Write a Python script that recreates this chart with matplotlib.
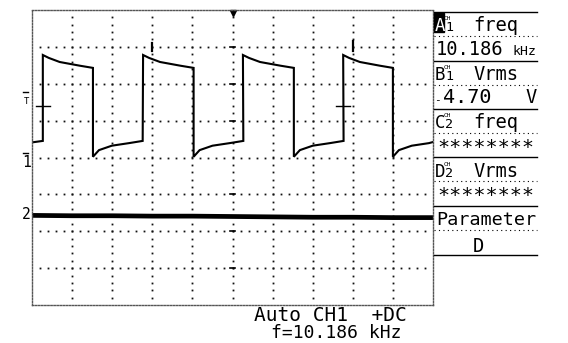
import matplotlib
matplotlib.use("Agg")
import matplotlib.pyplot as plt
import numpy as np

# ---------------- data (in screen divisions) ----------------
ch1_rise_times = [0.27, 2.77, 5.26, 7.76]
ch1_fall_times = [1.52, 4.03, 6.53, 9.00]
ch1_high_offsets = [0.0, 0.15, 0.42, 0.67, 0.92, 1.25]
ch1_high_levels = [2.78, 2.70, 2.59, 2.54, 2.49, 2.43]
ch1_low_offsets = [0.0, 0.15, 0.47, 0.90, 1.24]
ch1_low_levels = [0.02, 0.20, 0.32, 0.39, 0.45]
ch1_start_level = 0.41
cursor_level = 1.40

ch2_times = [0, 1, 2, 3, 4, 5, 6, 7, 8, 9, 10]
ch2_levels = [-1.57, -1.58, -1.58, -1.59, -1.59, -1.60, -1.61, -1.62, -1.62, -1.63, -1.63]

panel_rows = [("A", "1", "freq"), ("B", "1", "Vrms"), ("C", "2", "freq"), ("D", "2", "Vrms")]
panel_values = [("10.186", "kHz"), ("-4.70", "V"), ("********", ""), ("********", "")]
status_line1 = "Auto CH1  +DC"
status_line2 = "f=10.186 kHz"

# ---------------- figure ----------------
W, H = 568, 343
fig = plt.figure(figsize=(W / 100, H / 100), dpi=100)
fig.patch.set_facecolor("white")

x0, x1, y0, y1 = 32, 433, 10, 305
ax = fig.add_axes([x0 / W, (H - y1) / H, (x1 - x0) / W, (y1 - y0) / H])
ax.set_xlim(0, 10)
ax.set_ylim(-4, 4)
ax.set_xticks([])
ax.set_yticks([])
for s in ax.spines.values():
    s.set_linewidth(1.0)
    s.set_linestyle((0, (1, 1.2)))
    s.set_color("#555555")

# dotted graticule
for i in range(1, 10):
    yy = np.arange(-3.8, 4.0, 0.2)
    ax.plot(np.full_like(yy, i), yy, ls="none", marker="s", ms=1.3, mec="none", color="#111111")
for j in range(-3, 4):
    xx = np.arange(0.2, 10.0, 0.2)
    ax.plot(xx, np.full_like(xx, j), ls="none", marker="s", ms=1.3, mec="none", color="#111111")
# center line tick dashes
for j in range(-3, 4):
    if j != 0:
        ax.plot([4.94, 5.06], [j, j], color="black", lw=1.2)
ax.plot([3, 3], [2.9, 3.1], color="black", lw=1.6)
ax.plot([8, 8], [2.9, 3.15], color="black", lw=1.6)

# CH1 trace
tx = [0.0, ch1_rise_times[0]]
ty = [ch1_start_level, ch1_low_levels[-1]]
for k, (r, f) in enumerate(zip(ch1_rise_times, ch1_fall_times)):
    sc = (f - r) / ch1_high_offsets[-1]
    for o, v in zip(ch1_high_offsets, ch1_high_levels):
        tx.append(r + o * sc)
        ty.append(v)
    nxt = ch1_rise_times[k + 1] if k + 1 < len(ch1_rise_times) else 10.0
    for o, v in zip(ch1_low_offsets, ch1_low_levels):
        t = f + o
        if t > 10.0:
            break
        tx.append(t)
        ty.append(v)
        if t >= nxt:
            break
if tx[-1] < 10.0:
    tx.append(10.0)
    ty.append(0.42)
ax.plot(tx, ty, color="black", lw=1.5, solid_joinstyle="miter")

# cursor crosses on the rising edges
for r in (ch1_rise_times[0], ch1_rise_times[-1]):
    ax.plot([r - 0.17, r + 0.17], [cursor_level, cursor_level], color="black", lw=1.0)

# CH2 trace
ax.plot(ch2_times, ch2_levels, color="black", lw=3.4)

# trigger position marker
ax.plot([5], [3.93], marker="v", ms=5, color="black", clip_on=False)

# ---------------- overlay in pixel coordinates ----------------
ov = fig.add_axes([0, 0, 1, 1])
ov.set_xlim(0, W)
ov.set_ylim(H, 0)
ov.axis("off")

mono = "DejaVu Sans Mono"

# left channel markers
ov.plot([23, 28], [153, 153], color="black", lw=1)
ov.text(26.5, 167, "1", fontsize=10.5, family=mono, ha="center", va="baseline")
ov.text(26.5, 219, "2", fontsize=10.5, family=mono, ha="center", va="baseline")
ov.plot([23, 28], [92, 92], color="black", lw=1)
ov.text(26.5, 104, "T", fontsize=6.5, family=mono, ha="center", va="baseline")

# right panel lines
px0, px1 = 434, 537
for y in (12, 61, 109, 157, 206, 255):
    ov.plot([px0, px1], [y, y], color="black", lw=1.0)
for y in (36, 85, 133, 181, 230):
    ov.plot([px0, px1], [y, y], color="black", lw=0.8, ls=(0, (1, 3)))

row_base = [31, 80, 128, 177]
val_base = [55, 103, 150, 199]
for i, ((letter, ch, name), (val, unit)) in enumerate(zip(panel_rows, panel_values)):
    b = row_base[i]
    if i == 0:
        ov.add_patch(plt.Rectangle((434, b - 18), 9.5, 18.5, color="black"))
        ov.text(434.5, b, letter, fontsize=12.5, family=mono, ha="left", va="baseline", color="white")
    else:
        ov.text(434.5, b, letter, fontsize=12.5, family=mono, ha="left", va="baseline")
    ov.text(444, b - 11, "CH", fontsize=4.5, family=mono, ha="left", va="baseline")
    ov.text(445, b, ch, fontsize=9.5, family=mono, ha="left", va="baseline")
    ov.text(473, b, name, fontsize=13.5, family=mono, ha="left", va="baseline")
    vb = val_base[i]
    if val.startswith("*"):
        ov.text(485.5, vb - 3, val, fontsize=14.5, family=mono, ha="center", va="center")
    elif val.startswith("-"):
        ov.text(434, vb, "-", fontsize=8, family=mono, ha="left", va="baseline")
        ov.text(443, vb, val[1:], fontsize=14.5, family=mono, ha="left", va="baseline")
        ov.text(537, vb, unit, fontsize=13.5, family=mono, ha="right", va="baseline")
    else:
        ov.text(436, vb, val, fontsize=13.5, family=mono, ha="left", va="baseline")
        ov.text(537, vb, unit, fontsize=9.5, family=mono, ha="right", va="baseline")

ov.text(436, 225, "Parameter", fontsize=13.3, family=mono, ha="left", va="baseline")
ov.text(478, 252, "D", fontsize=13.5, family=mono, ha="center", va="baseline")

# status text
ov.text(330, 321, status_line1, fontsize=14, family=mono, ha="center", va="baseline")
ov.text(336, 338, status_line2, fontsize=13, family=mono, ha="center", va="baseline")

fig.savefig("out.png", dpi=100, facecolor="white")
